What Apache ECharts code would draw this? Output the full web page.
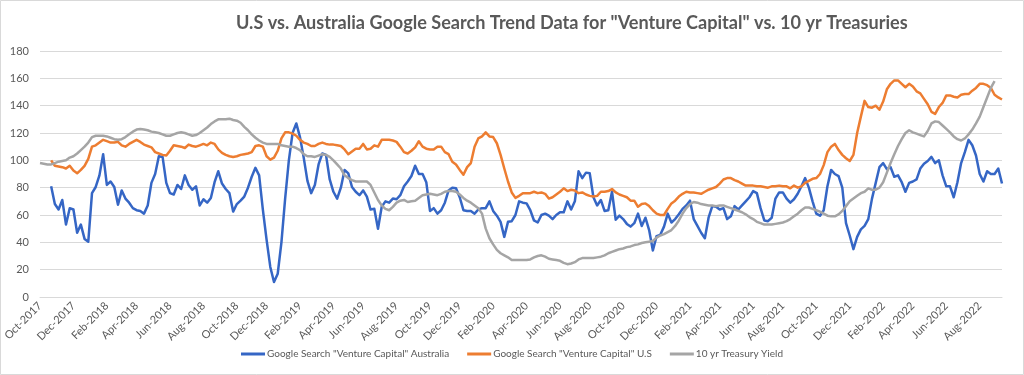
<!DOCTYPE html>
<html>
<head>
<meta charset="utf-8">
<script src="https://cdn.jsdelivr.net/npm/echarts@6.0.0/dist/echarts.min.js"></script>
<style>
  html, body { margin: 0; padding: 0; background: #fff; }
  #chart { width: 1024px; height: 375px; }
</style>
</head>
<body>
<div id="chart"></div>
<script>
// weekly points, first week starts 1 Oct 2017
const startDate = new Date(2017, 9, 1)
const weekCount = 260

const tickLabels = [
  'Oct-2017', 'Dec-2017', 'Feb-2018', 'Apr-2018', 'Jun-2018', 'Aug-2018',
  'Oct-2018', 'Dec-2018', 'Feb-2019', 'Apr-2019', 'Jun-2019', 'Aug-2019',
  'Oct-2019', 'Dec-2019', 'Feb-2020', 'Apr-2020', 'Jun-2020', 'Aug-2020',
  'Oct-2020', 'Dec-2020', 'Feb-2021', 'Apr-2021', 'Jun-2021', 'Aug-2021',
  'Oct-2021', 'Dec-2021', 'Feb-2022', 'Apr-2022', 'Jun-2022', 'Aug-2022'
]

const yTicks = [0, 20, 40, 60, 80, 100, 120, 140, 160, 180]

// Google Search "Venture Capital" Australia
const australia = [
  null, null, null, 81, 68, 64, 71, 53, 65, 64, 47, 53, 42.5, 40.5, 76, 80.5, 89, 104.5, 82, 84.5,
  80.5, 67.5, 78, 72, 69, 65, 63.5, 63, 61, 67, 83.5, 90, 103, 102.5, 83.5, 76, 75, 82, 79, 89,
  82, 78.5, 81, 67, 71.5, 69, 72.5, 84, 92, 83, 79, 76, 62.5, 68, 70.5, 73.5, 80, 88, 94.5, 89,
  64, 42, 22, 11, 17, 40, 72, 100, 120, 127, 117, 102, 85, 76, 82, 97, 105, 104, 86, 77,
  72, 80, 93, 90.5, 80.5, 77, 74.5, 78, 73.5, 64, 64.5, 50, 66, 70, 69, 72, 71.5, 74.5, 81, 84.5,
  88.5, 96, 90, 90, 84, 63, 65, 61, 63.5, 69, 78, 80, 79.5, 73, 63.5, 63, 63, 61, 64, 65,
  65, 70, 63, 59.5, 55, 44, 55, 55.5, 60, 70, 69, 68.5, 63.5, 56, 54.5, 60, 61, 59.5, 57, 60,
  62, 62, 70, 64, 70, 92, 87, 91, 90.5, 73, 67, 71, 63, 63.5, 77, 56.5, 59.5, 57, 53.5, 51.5,
  54, 61, 52, 58, 49, 34, 44.5, 45.5, 51.5, 61, 54.5, 57, 60.5, 64.5, 67, 70.5, 57, 52, 47, 43,
  58, 66.5, 66, 64, 65, 57, 59, 66.5, 64, 67, 70, 73, 77.5, 76, 65, 56, 55.5, 58, 72, 76.5,
  76.5, 72, 69, 71.5, 75.5, 81, 87, 80, 70, 61, 59.5, 63.5, 81, 93, 90, 88.5, 80, 54, 45, 35,
  44, 49.5, 52, 57, 72, 83.5, 95, 98, 93.5, 95, 88, 89, 84, 77, 83.5, 84.5, 86, 94, 97.5, 99.5,
  102.5, 98, 100, 89, 81, 81, 73, 84, 98, 106, 115, 111, 103.5, 90, 84.5, 92, 90, 90, 94, 83
]

// Google Search "Venture Capital" U.S
const usSearch = [
  null, null, null, 100, 96, 95.5, 95, 94, 96, 92.5, 90.5, 93, 96, 101, 110, 111, 113, 115, 114, 113,
  113, 113.5, 111, 110, 112, 113.5, 115, 113.5, 111.5, 110.5, 109.5, 106, 105, 104, 103.5, 107, 111, 110.5, 110, 109,
  111.5, 110.5, 110, 111, 112, 111, 113, 112, 108, 105.5, 104, 103, 102.5, 103, 104, 104.5, 105, 106, 110.5, 111,
  110, 103, 100.5, 102, 107, 116, 120.5, 120.5, 119.5, 118, 115, 113, 112, 110.5, 110.5, 112, 113, 112, 111.5, 111.5,
  111, 110.5, 108, 104.5, 106.5, 108.5, 108.5, 112, 108, 108.5, 111, 110, 115, 115, 115, 114.5, 113.5, 110, 106, 105,
  107, 109.5, 114, 110, 108.5, 108, 108, 110, 110, 106, 104.5, 99, 97, 93, 89.5, 95, 98, 110, 116, 117.5,
  120.5, 117.5, 117, 112.5, 104, 94, 84.5, 76.5, 72.5, 74, 76, 76, 76, 77, 76, 76.5, 75.5, 72, 73, 75,
  77, 79.5, 77.5, 78.5, 78, 76, 76.5, 75, 74, 73.5, 74, 77, 77, 77.5, 79, 76.5, 75, 74, 73, 70.5,
  70.5, 66, 68, 68.5, 66.5, 63.5, 61, 60, 60, 64.5, 68.5, 70.5, 73.5, 75.5, 77, 76.5, 76.5, 76, 75.5, 77,
  78.5, 79.5, 80.5, 83, 86, 87, 87, 85.5, 84.5, 83, 81.5, 81.5, 81.5, 81, 81, 80.5, 80, 81, 81, 81.5,
  81, 81, 79.5, 81.5, 80, 81, 83.5, 85, 86.5, 87, 90, 96.5, 106, 110, 112, 107.5, 104, 101.5, 99.5, 104,
  120, 132, 143.5, 139, 138.5, 140, 137, 143, 152, 156, 158.5, 158.5, 156, 153.5, 156, 154, 150.5, 149, 145, 141,
  135.5, 134, 139, 142, 147.5, 147.5, 146.5, 146, 148, 148.5, 148.5, 151, 153, 156, 156, 155, 153, 148, 146, 144.5
]

// 10 yr Treasury Yield
const treasury = [
  98, 97.5, 97, 97, 98, 99, 99.5, 100, 102, 103, 105, 107.5, 110, 113, 117, 118, 118, 118, 117.5, 116.5,
  115.5, 115, 115.5, 117, 119, 121, 122.5, 123, 122.5, 122, 121, 120.5, 120, 119, 118, 118, 119, 120, 120.5, 120,
  119, 118, 118.5, 120, 122, 124, 126.5, 128.5, 130, 130, 130, 130.5, 129.5, 129, 127.5, 124.5, 122, 119, 116.5, 114.5,
  113, 112, 112, 112, 112, 111, 110.5, 110, 110, 109, 107.5, 104.5, 103, 103, 102.5, 103.5, 104.5, 104, 102.5, 100,
  97, 94, 89, 87, 85.5, 84.5, 84.5, 84.5, 84.5, 82, 76.5, 71, 67, 64.5, 63.5, 66, 69, 70.5, 71, 69.5,
  70, 70.5, 72.5, 74.5, 75, 75.5, 75, 74.5, 75.5, 77, 77.5, 77.5, 77, 75, 72.5, 70.5, 69, 67, 65, 61,
  50, 43, 38.5, 34.5, 32, 30.5, 29, 27, 27, 27, 27, 27, 27.5, 29, 30, 30.5, 29.5, 28, 27.5, 27,
  26.5, 25, 24, 24.5, 25.5, 27.5, 28.5, 28.5, 28.5, 28.5, 29, 29.5, 30.5, 32, 33, 34, 35, 35.5, 36.5, 37,
  38, 38.5, 39.5, 40, 40.5, 41, 43.5, 45, 46, 47.5, 49, 52, 56, 61, 65, 68, 69.5, 69, 68, 67.5,
  67, 67, 66.5, 67, 67, 66, 65, 64, 63, 62, 60.5, 58.5, 57, 55, 54, 53, 53, 53, 53.5, 54,
  54.5, 55.5, 57, 59, 61, 63.5, 65.5, 65.5, 64.5, 63.5, 62.5, 61, 59.5, 59, 59, 60.5, 63, 66.5, 70, 72,
  74, 76, 77, 79.5, 78.5, 78.5, 80, 84, 91, 98, 104.5, 110.5, 115.5, 120, 122, 120.5, 119.5, 118.5, 117.5, 121.5,
  127, 128.5, 128, 125.5, 123, 120.5, 117.5, 115.5, 114.5, 116, 119, 122.5, 127, 132, 139, 146, 153, 158, null, null
]

const monthNames = ['Jan', 'Feb', 'Mar', 'Apr', 'May', 'Jun', 'Jul', 'Aug', 'Sep', 'Oct', 'Nov', 'Dec']

const weeks = []
for (let i = 0; i < weekCount; i++) {
  const d = new Date(startDate.getTime())
  d.setDate(d.getDate() + i * 7)
  weeks.push(d)
}
const categories = weeks.map(d => d.getFullYear() + '-' + (d.getMonth() + 1) + '-' + d.getDate())

// put each tick label on the first week of its month
const labelAt = {}
tickLabels.forEach(lbl => {
  const [mon, yr] = lbl.split('-')
  const idx = weeks.findIndex(d => monthNames[d.getMonth()] === mon && d.getFullYear() === +yr)
  if (idx >= 0) labelAt[idx] = lbl
})

const font = 'Lato, "Liberation Sans", sans-serif'
const textColor = '#595959'

const chart = echarts.init(document.getElementById('chart'))

const lineSeries = (name, data, color) => ({
  name,
  type: 'line',
  data,
  showSymbol: false,
  connectNulls: false,
  lineStyle: { width: 2.5, color, join: 'round' },
  itemStyle: { color },
  emphasis: { disabled: true }
})

const option = {
  animation: false,
  backgroundColor: '#fff',
  title: {
    text: 'U.S vs. Australia Google Search Trend Data for "Venture Capital" vs. 10 yr Treasuries',
    left: 231,
    top: 9,
    textStyle: { fontFamily: font, fontSize: 18.1, fontWeight: 'bold', color: textColor }
  },
  legend: {
    bottom: 11,
    left: 'center',
    icon: 'rect',
    itemWidth: 24,
    itemHeight: 3,
    itemGap: 18,
    textStyle: { fontFamily: font, fontSize: 10, color: textColor, padding: [0, 0, 0, -3] },
    data: ['Google Search "Venture Capital" Australia', 'Google Search "Venture Capital" U.S', '10 yr Treasury Yield']
  },
  grid: { left: 40, right: 22, top: 51, bottom: 78 },
  graphic: [{
    type: 'rect',
    shape: { x: 0.5, y: 0.5, width: 1023, height: 374 },
    style: { fill: 'none', stroke: '#d9d9d9', lineWidth: 1 },
    silent: true
  }],
  xAxis: {
    type: 'category',
    data: categories,
    boundaryGap: false,
    axisLine: { lineStyle: { color: '#d9d9d9', width: 1 } },
    axisTick: { show: false },
    axisLabel: {
      interval: (idx) => labelAt[idx] !== undefined,
      formatter: (val, idx) => labelAt[idx] || '',
      rotate: 45,
      margin: 7,
      fontFamily: font,
      fontSize: 11,
      color: textColor
    },
    splitLine: { show: false }
  },
  yAxis: {
    type: 'value',
    min: yTicks[0],
    max: yTicks[yTicks.length - 1],
    interval: yTicks[1] - yTicks[0],
    axisLine: { show: false },
    axisTick: { show: false },
    axisLabel: { fontFamily: font, fontSize: 11, color: textColor, margin: 11 },
    splitLine: { lineStyle: { color: '#d9d9d9', width: 1 } }
  },
  series: [
    lineSeries('Google Search "Venture Capital" Australia', australia, '#3566c5'),
    lineSeries('Google Search "Venture Capital" U.S', usSearch, '#ed7d31'),
    lineSeries('10 yr Treasury Yield', treasury, '#a5a5a5')
  ]
}

chart.setOption(option)
</script>
</body>
</html>
